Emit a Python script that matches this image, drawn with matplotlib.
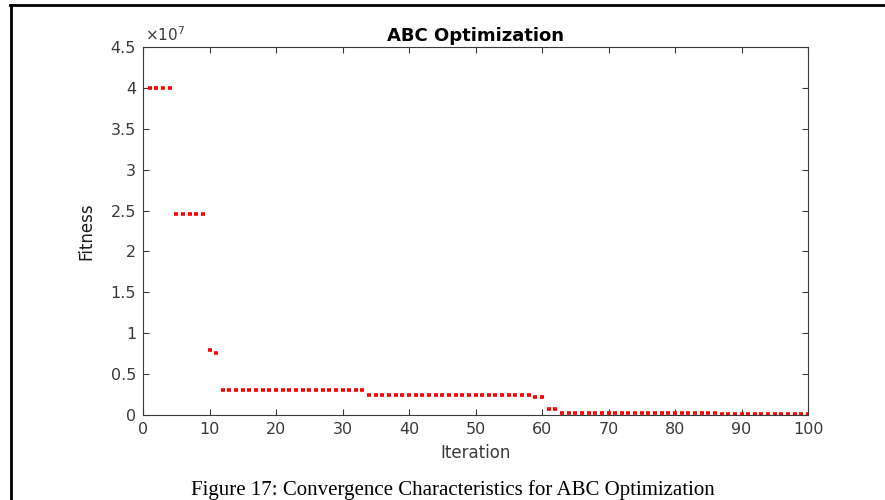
import matplotlib
matplotlib.use("Agg")
import matplotlib.pyplot as plt
from matplotlib.lines import Line2D
from matplotlib.ticker import FuncFormatter
import numpy as np

# dati (fitness in unita di 1e7)
iterazioni = np.arange(1, 101)
livelli = [
    (4, 4.00),    # iter 1-4
    (5, 2.46),    # iter 5-9
    (1, 0.80),    # iter 10
    (1, 0.755),   # iter 11
    (22, 0.305),  # iter 12-33
    (25, 0.245),  # iter 34-58
    (2, 0.225),   # iter 59-60
    (2, 0.07),    # iter 61-62
    (3, 0.03),    # iter 63-65
    (21, 0.02),   # iter 66-86
    (14, 0.008),  # iter 87-100
]
fitness = np.concatenate([[v] * n for n, v in livelli]) * 1e7

titolo = "ABC Optimization"
etichetta_x = "Iteration"
etichetta_y = "Fitness"
didascalia = "Figure 17: Convergence Characteristics for ABC Optimization"

plt.rcParams["font.family"] = ["DejaVu Sans"]
plt.rcParams["mathtext.fontset"] = "dejavusans"
grigio = "#3a3a3a"

fig = plt.figure(figsize=(8.85, 5.0), dpi=100)
ax = fig.add_axes([0.1616, 0.17, 0.7514, 0.736])

ax.plot(iterazioni, fitness, linestyle="none", marker="_", markersize=3.5,
        markeredgewidth=2.6, color="red")

ax.set_xlim(0, 100)
ax.set_ylim(0, 4.5e7)
ax.set_xticks(np.arange(0, 101, 10))
ax.set_yticks(np.arange(0, 4.51e7, 0.5e7))
ax.yaxis.set_major_formatter(FuncFormatter(lambda v, pos: "%g" % round(v / 1e7, 2)))
ax.text(0.003, 1.008, r"$\times10^{7}$", transform=ax.transAxes,
        ha="left", va="bottom", fontsize=11, color=grigio)

ax.tick_params(direction="in", top=True, right=True, length=4, width=0.8,
               labelsize=11.5, colors=grigio, pad=5)
for sp in ax.spines.values():
    sp.set_color(grigio)
    sp.set_linewidth(0.8)

ax.set_title(titolo, fontsize=13, fontweight="bold", color="black", pad=4)
ax.set_xlabel(etichetta_x, fontsize=12, color=grigio)
ax.set_ylabel(etichetta_y, fontsize=12, color="#1a1a1a")
ax.xaxis.set_label_coords(0.5, -0.078)
ax.yaxis.set_label_coords(-0.071, 0.5)

# cornice della figura e didascalia
fig.add_artist(Line2D([10 / 885, 1.0], [1 - 4.5 / 500, 1 - 4.5 / 500],
                      transform=fig.transFigure, color="black", linewidth=2))
fig.add_artist(Line2D([11 / 885, 11 / 885], [0, 1 - 4.5 / 500],
                      transform=fig.transFigure, color="black", linewidth=2))
fig.text(453 / 885, 1 - 490 / 500, didascalia, ha="center", va="center",
         fontsize=15, family=["Liberation Serif", "DejaVu Serif"])

fig.savefig("out.png", dpi=100)
